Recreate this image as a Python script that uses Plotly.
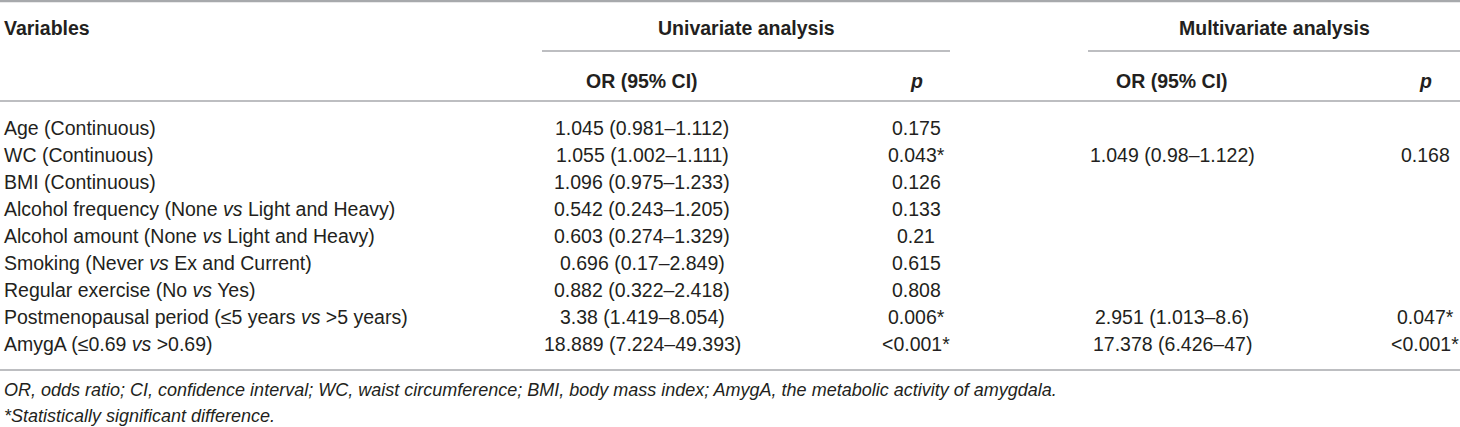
import plotly.graph_objects as go

# ---- data ----
variables = [
    "Age (Continuous)",
    "WC (Continuous)",
    "BMI (Continuous)",
    "Alcohol frequency (None <i>vs</i> Light and Heavy)",
    "Alcohol amount (None <i>vs</i> Light and Heavy)",
    "Smoking (Never <i>vs</i> Ex and Current)",
    "Regular exercise (No <i>vs</i> Yes)",
    "Postmenopausal period (≤5 years <i>vs</i> >5 years)",
    "AmygA (≤0.69 <i>vs</i> >0.69)",
]
uni_or = [
    "1.045 (0.981–1.112)",
    "1.055 (1.002–1.111)",
    "1.096 (0.975–1.233)",
    "0.542 (0.243–1.205)",
    "0.603 (0.274–1.329)",
    "0.696 (0.17–2.849)",
    "0.882 (0.322–2.418)",
    "3.38 (1.419–8.054)",
    "18.889 (7.224–49.393)",
]
uni_p = ["0.175", "0.043*", "0.126", "0.133", "0.21", "0.615", "0.808", "0.006*", "<0.001*"]
multi_or = ["", "1.049 (0.98–1.122)", "", "", "", "", "", "2.951 (1.013–8.6)", "17.378 (6.426–47)"]
multi_p = ["", "0.168", "", "", "", "", "", "0.047*", "<0.001*"]

group_headers = ["Univariate analysis", "Multivariate analysis"]
col_headers = ["OR (95% CI)", "<i>p</i>", "OR (95% CI)", "<i>p</i>"]
footnotes = [
    "<i>OR, odds ratio; CI, confidence interval; WC, waist circumference; BMI, body mass index; AmygA, the metabolic activity of amygdala.</i>",
    "<i>*Statistically significant difference.</i>",
]

# ---- layout constants ----
W, H = 1460, 427
FONT = "Liberation Sans, Arial, Helvetica, sans-serif"
TXT = "#231f20"
RULE = "#a7a9ac"
FS = 19.5

col_x = [642, 916, 1172, 1425]
group_x = [746, 1274]
row_y0, row_dy = 128, 27

fig = go.Figure()
fig.add_trace(go.Scatter(x=[0, W], y=[0, H], mode="markers",
                         marker=dict(opacity=0), hoverinfo="skip", showlegend=False))

ann = []
def add(text, x, y, xanchor="left", size=FS, bold=False):
    t = f"<b>{text}</b>" if bold else text
    ann.append(dict(text=t, x=x, y=y, xref="x", yref="y", xanchor=xanchor, yanchor="middle",
                    showarrow=False, font=dict(family=FONT, size=size, color=TXT)))

add("Variables", 2, 28, bold=True)
for gx, g in zip(group_x, group_headers):
    add(g, gx, 28, xanchor="center", bold=True)
for cx, c in zip(col_x, col_headers):
    add(c, cx, 81, xanchor="center", bold=True)

for i, v in enumerate(variables):
    y = row_y0 + i * row_dy
    add(v, 2, y)
    for cx, val in zip(col_x, [uni_or[i], uni_p[i], multi_or[i], multi_p[i]]):
        if val:
            add(val, cx, y, xanchor="center")

add(footnotes[0], 2, 390, size=18)
add(footnotes[1], 2, 416, size=18)

shapes = [
    dict(type="line", x0=0, x1=W, y0=1, y1=1, line=dict(color=RULE, width=2.5)),
    dict(type="line", x0=542, x1=950, y0=51, y1=51, line=dict(color=RULE, width=1.5)),
    dict(type="line", x0=1088, x1=W, y0=51, y1=51, line=dict(color=RULE, width=1.5)),
    dict(type="line", x0=0, x1=W, y0=101, y1=101, line=dict(color=RULE, width=1.5)),
    dict(type="line", x0=0, x1=W, y0=370, y1=370, line=dict(color=RULE, width=1.5)),
]

fig.update_layout(
    width=W, height=H, autosize=False,
    margin=dict(l=0, r=0, t=0, b=0),
    paper_bgcolor="white", plot_bgcolor="white",
    xaxis=dict(range=[0, W], visible=False, fixedrange=True),
    yaxis=dict(range=[H, 0], visible=False, fixedrange=True),
    annotations=ann, shapes=shapes, showlegend=False,
)
fig.write_html("out.html", config={"displayModeBar": False},
               post_script="document.body.style.margin='0';document.body.style.overflow='hidden';")
